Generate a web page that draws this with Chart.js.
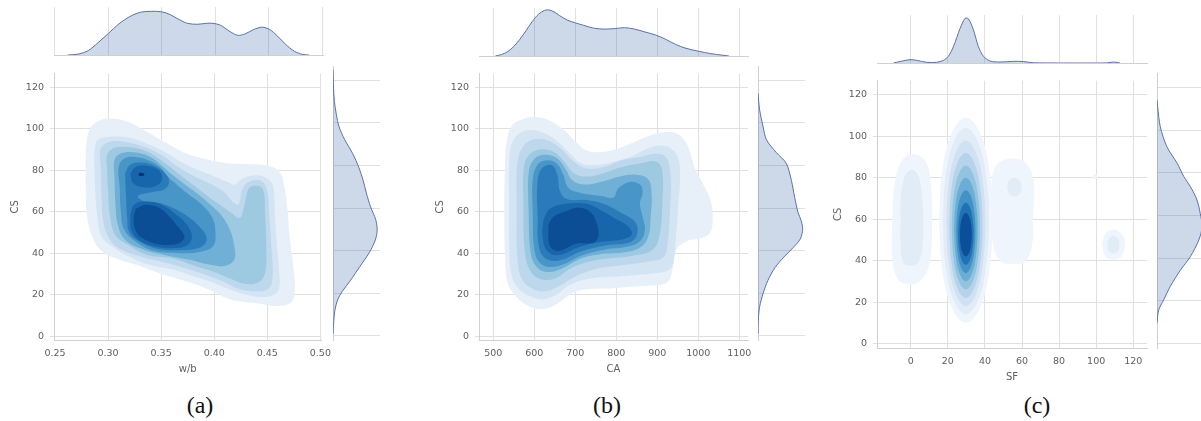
<!DOCTYPE html>
<html>
<head>
<meta charset="utf-8">
<title>CS joint KDE plots</title>
<script src="https://cdn.jsdelivr.net/npm/chart.js@4.4.1/dist/chart.umd.min.js"></script>
<style>
  html, body { margin: 0; padding: 0; background: #fff; }
  body { position: relative; width: 1201px; height: 421px; overflow: hidden; }
  canvas { position: absolute; }
  .caption {
    position: absolute; top: 393px; width: 60px; margin-left: -30px; text-align: center;
    font-family: "Liberation Serif", "Times New Roman", serif; font-size: 24px; line-height: 24px; color: #111;
  }
</style>
</head>
<body>
<div class="caption" style="left:200px">(a)</div>
<div class="caption" style="left:607px">(b)</div>
<div class="caption" style="left:1037px">(c)</div>
<script>
"use strict";

// ---- ticks ----
const csTicks = [0, 20, 40, 60, 80, 100, 120];
const csLabels = ["0", "20", "40", "60", "80", "100", "120"];
const wbTicks = [0.25, 0.30, 0.35, 0.40, 0.45, 0.50];
const wbLabels = ["0.25", "0.30", "0.35", "0.40", "0.45", "0.50"];
const caTicks = [500, 600, 700, 800, 900, 1000, 1100];
const caLabels = ["500", "600", "700", "800", "900", "1000", "1100"];
const sfTicks = [0, 20, 40, 60, 80, 100, 120];
const sfLabels = ["0", "20", "40", "60", "80", "100", "120"];

// ---- (a) w/b vs CS : density contours, outer -> inner ----
const wbLevel1 = [[0.279,90],[0.282,99],[0.290,103.5],[0.302,105],[0.318,103.5],[0.335,99],[0.354,93.5],[0.372,88.5],[0.391,85.5],[0.410,83.5],[0.429,83],[0.447,82.5],[0.461,79.5],[0.466,72],[0.469,61],[0.471,48],[0.474,35.5],[0.476,24],[0.473,16.5],[0.460,14.5],[0.444,15.5],[0.428,16.5],[0.413,18],[0.397,22],[0.382,25],[0.366,27.5],[0.347,30.5],[0.329,34],[0.310,37],[0.294,41],[0.285,48],[0.280,59],[0.279,72]];
const wbLevel2 = [[0.287,84],[0.288,92],[0.291,95],[0.302,96.2],[0.319,95.8],[0.338,92.6],[0.354,88.7],[0.369,84],[0.385,80.1],[0.401,76.9],[0.413,74.3],[0.419,73],[0.426,75.8],[0.435,77.4],[0.447,76.9],[0.455,73],[0.457,60.5],[0.459,44.8],[0.461,32.2],[0.461,22.8],[0.455,19.7],[0.442,18.9],[0.426,20.5],[0.413,22.8],[0.398,26],[0.379,29.1],[0.360,32.2],[0.338,34.5],[0.319,38.5],[0.304,43.2],[0.294,47.9],[0.290,57.3],[0.288,70]];
const wbLevel3 = [[0.293,82.4],[0.293,90.3],[0.301,93.7],[0.316,93.7],[0.335,91.1],[0.351,87.1],[0.366,81.6],[0.382,76.9],[0.398,73],[0.410,69.1],[0.418,64.4],[0.423,63.6],[0.427,71.5],[0.435,74.9],[0.445,74.6],[0.450,69.9],[0.452,57.3],[0.454,41.6],[0.455,29.1],[0.451,22.8],[0.439,21.6],[0.423,22.8],[0.410,26],[0.394,29.1],[0.376,32.2],[0.354,35.5],[0.332,38.2],[0.313,41.6],[0.302,46.4],[0.296,54.2],[0.294,66.7]];
const wbLevel4 = [[0.299,80.9],[0.299,87.1],[0.305,90.6],[0.321,91.1],[0.338,88.7],[0.352,84],[0.366,78.5],[0.380,73],[0.394,67.5],[0.407,62.8],[0.416,59.5],[0.424,57],[0.428,62],[0.430,67],[0.433,71.5],[0.440,72.5],[0.446,70.7],[0.448,58.9],[0.449,43.2],[0.448,30.7],[0.442,26],[0.429,25.2],[0.416,27.5],[0.401,30.7],[0.382,33.8],[0.360,37.5],[0.338,39],[0.319,44],[0.307,48.7],[0.302,57.3],[0.300,69.9]];
const wbLevel5 = [[0.306,76.2],[0.306,84.8],[0.311,87.9],[0.324,88.7],[0.340,86.4],[0.352,81.6],[0.363,76.9],[0.373,73],[0.383,69.1],[0.396,63.6],[0.407,58.1],[0.415,51.1],[0.419,43.2],[0.419,36.9],[0.410,33.8],[0.394,34.6],[0.376,36.9],[0.354,39],[0.332,42],[0.316,46.5],[0.309,54.2],[0.307,63.6]];
const wbLevel6 = [[0.311,71.5],[0.310,81.6],[0.315,85.6],[0.326,86.4],[0.338,84.8],[0.349,81.6],[0.355,77.7],[0.363,73.8],[0.376,68.3],[0.388,63.6],[0.398,57.3],[0.401,51.1],[0.399,43.5],[0.385,40.5],[0.366,40],[0.344,41],[0.326,45.5],[0.315,51.5],[0.312,60.5]];
const wbLevel7 = [[0.316,78.5],[0.321,82.7],[0.332,83.7],[0.344,82.1],[0.354,78.5],[0.3575,74.3],[0.353,70.7],[0.343,69.6],[0.328,67.5],[0.335,64.9],[0.351,63.9],[0.369,59.7],[0.385,53.4],[0.393,47.1],[0.3875,43],[0.369,41.5],[0.3475,42],[0.330,45.5],[0.320,50],[0.318,57.3],[0.317,66.7]];
const wbLevel8Upper = [[0.321,78.5],[0.326,81.6],[0.337,82.1],[0.3475,80.1],[0.351,76.2],[0.346,72.7],[0.333,71.8],[0.3235,73.8]];
const wbLevel8Lower = [[0.321,58.9],[0.325,63.6],[0.337,64.9],[0.351,63.3],[0.363,59.2],[0.374,53.9],[0.379,47.9],[0.375,44],[0.363,42.5],[0.346,43],[0.330,46],[0.322,51]];
const wbLevel9 = [[0.326,61.3],[0.335,63.3],[0.3475,62],[0.357,58.1],[0.366,52.6],[0.372,47.9],[0.368,45.2],[0.359,44],[0.3475,44.3],[0.335,46.5],[0.327,50],[0.324,55.8]];
const wbLevel10 = [[0.3288,78.5],[0.3319,78.8],[0.3344,78],[0.3325,77.3],[0.3294,77.4]];
const wbTop = [[0.262,0],[0.272,0.02],[0.281,0.09],[0.290,0.25],[0.300,0.45],[0.310,0.65],[0.320,0.80],[0.330,0.89],[0.340,0.91],[0.350,0.90],[0.358,0.84],[0.366,0.74],[0.374,0.66],[0.383,0.64],[0.392,0.66],[0.398,0.66],[0.405,0.62],[0.413,0.50],[0.421,0.41],[0.428,0.44],[0.436,0.53],[0.444,0.58],[0.451,0.53],[0.458,0.40],[0.466,0.22],[0.474,0.08],[0.482,0.01],[0.488,0]];
const wbSide = [[0,1],[0.01,5],[0.04,12],[0.1,17],[0.2,21],[0.37,26],[0.57,32.5],[0.77,39],[0.9,45],[0.94,49.5],[0.91,54.5],[0.8,60.5],[0.71,67],[0.64,73],[0.55,79],[0.42,85.5],[0.25,92],[0.13,98],[0.07,104],[0.03,110],[0.012,116],[0.004,122],[0,125]];

// ---- (b) CA vs CS ----
const caLevel1 = [[528.5,82.5],[530.9,91.9],[544.7,101.3],[573.2,104.7],[605.7,105.6],[638.2,103.9],[670.7,99.7],[703.3,93.4],[727.6,89.5],[760.2,88.8],[800.8,90.3],[841.5,93.4],[882.1,96.9],[914.6,98.4],[947.2,97.8],[967.5,94.2],[979.7,88.8],[991.9,80.9],[1012.2,73.1],[1030.1,65.3],[1035,55.9],[1028.5,49.7],[1008.1,47.3],[971.5,45.8],[947.2,41.9],[937.4,32.5],[929.3,27],[914.6,25],[882.1,24.4],[841.5,23.9],[792.7,23.1],[743.9,22.8],[703.3,21.6],[670.7,17.7],[642.3,14.1],[613.8,13],[581.3,15],[552.8,19.7],[534.1,26.3],[528.5,38.8],[526.8,63.8]];
const caLevel2 = [[538.2,63.8],[540.7,88.8],[556.9,96.6],[589.4,99.4],[622,98.1],[654.5,94.2],[687,88],[715.4,83.3],[752,82.5],[792.7,84.1],[833.3,86.4],[874,90.3],[906.5,91.9],[935,90.3],[951.2,85.6],[955.3,76.3],[951.2,63.8],[945.5,48.1],[939,35.6],[926.8,31.7],[890.2,30.2],[841.5,29.4],[792.7,28.6],[735.8,27.8],[687,24.7],[654.5,20],[622,17.7],[589.4,19.2],[561,23.1],[544.7,29.4],[539,41.9]];
const caLevel3 = [[556.9,63.8],[558.5,83.3],[573.2,91.6],[599.2,95],[634.1,94.2],[666.7,90],[696.7,84.1],[727.6,80.9],[772.4,81.7],[813,84.8],[857.7,86.4],[898.4,88],[922.8,85.9],[932.5,76.3],[930.9,60.6],[925.2,45],[914.6,38],[874,35.9],[808.9,34.1],[752,32.5],[703.3,29.1],[662.6,24.4],[626,21.6],[593.5,23.1],[569.1,27.8],[558.5,38.8]];
const caLevel4 = [[573.2,63.8],[574,80.2],[586.2,87.2],[613.8,90],[648,88.8],[674.8,83.8],[696.7,78.6],[727.6,77],[768.3,78.6],[808.9,81.3],[857.7,83.3],[898.4,84.1],[912.2,79.4],[912.2,63.8],[906.5,49.7],[890.2,41.9],[841.5,38.8],[784.6,37.5],[727.6,35.6],[687,32.5],[650.4,27.8],[613.8,27.5],[589.4,31.7],[576.4,41.9]];
const caLevel5 = [[585.4,63.8],[586.2,78.6],[599.2,85.3],[623.6,87.5],[654.5,85.9],[676.4,80.6],[692.7,75.2],[723.6,73.1],[768.3,74.7],[808.9,77],[849.6,77.8],[878,75.5],[886.2,68.4],[883.8,57.5],[878,48.1],[857.7,42.7],[817.1,40.3],[760.2,39.5],[711.4,37.2],[666.7,32.5],[630.1,30.9],[605.7,33.3],[591.1,40.3]];
const caLevel6 = [[595.9,60.6],[595.9,74.7],[607.3,82.5],[630.1,84.8],[654.5,83.3],[670.7,77.8],[682.9,71.6],[711.4,69.2],[760.2,67.7],[792.7,66.9],[804.9,71.3],[833.3,74.4],[857.7,73.1],[864.2,69.2],[857.7,63.8],[864.2,57.5],[869.9,51.3],[857.7,45.8],[825.2,43.1],[776.4,41.9],[719.5,39.1],[662.6,34.1],[622,34.1],[601.6,40.3]];
const caLevel7 = [[608.1,57.5],[607.3,73.1],[617.9,80.9],[642.3,82.5],[656.1,77.8],[662.6,70],[678.9,66.1],[727.6,65.6],[768.3,63.8],[808.9,59.8],[845.5,55.2],[851.2,49.4],[833.3,45.3],[776.4,43.8],[715.4,40.9],[658.5,36.4],[623.6,38],[609.8,45]];
const caLevel8 = [[622,55.9],[638.2,61.4],[678.9,63.8],[727.6,63.8],[760.2,60.9],[792.7,57.2],[829.3,52.8],[837.4,48.9],[813,46.6],[768.3,45.6],[711.4,43.1],[658.5,39.1],[631.7,41.1],[620.3,48.1]];
const caLevel9 = [[634.1,53.6],[646.3,57.5],[678.9,60.3],[707.3,61.9],[737.4,59.8],[752,54.4],[756.1,48.1],[742.3,45],[703.3,44.7],[658.5,41.1],[638.2,43.4]];
const caTop = [[505,0],[520,0.03],[535,0.09],[550,0.2],[565,0.35],[580,0.53],[595,0.72],[610,0.87],[625,0.95],[635,0.96],[648,0.92],[662,0.84],[680,0.75],[700,0.69],[720,0.64],[745,0.58],[770,0.56],[795,0.57],[820,0.59],[845,0.56],[870,0.5],[895,0.44],[920,0.35],[945,0.24],[970,0.16],[1000,0.1],[1030,0.05],[1060,0.015],[1075,0]];
const caSide = [[0,1],[0.007,7.5],[0.035,13.75],[0.11,20],[0.21,26],[0.36,32],[0.55,37],[0.75,41.5],[0.9,45.5],[0.95,50],[0.92,54],[0.85,58],[0.78,65],[0.71,73],[0.6,81],[0.39,86],[0.18,92],[0.11,98],[0.035,106],[0,114]];

// ---- (c) SF vs CS ----
const sfLevel1Mid = [[15.2,59.5],[17.1,84.3],[22.5,102.4],[29.7,109],[37.0,102.4],[42.3,84.3],[44.2,59.5],[42.3,34.8],[37.0,16.6],[29.7,10],[22.5,16.6],[17.1,34.8]];
const sfLevel1Left = [[-10,60],[-8.5,78],[-5,88],[0.5,91.5],[8,88],[11,75],[11.5,55],[10,38],[5,30],[-1,28.5],[-7,31],[-10,42]];
const sfLevel1Right = [[43.5,62],[43.5,76],[45.5,85],[50,88.5],[58,89],[64,85],[66.5,75],[66,62],[65.5,48],[62,40],[55,38.5],[48,40],[44.5,48]];
const sfLevel1Far = [[103.2,47.5],[105,53],[109.3,55],[113.5,53],[115.5,47.5],[113.5,42],[109.3,40.5],[105,42]];
const sfLevel1Speck = [[97.9,80.6],[99.4,82],[100.9,80.6],[99.4,79.2]];
const sfLevel2Mid = [[17.2,59],[18.9,81.5],[23.5,98],[29.7,104],[36.0,98],[40.5,81.5],[42.2,59],[40.5,36.5],[36.0,20],[29.7,14],[23.5,20],[18.9,36.5]];
const sfLevel2Left = [[-5.5,60],[-5.5,68],[-3.5,80],[0.5,84],[4.5,80],[6.5,65],[6.5,48],[4,39],[0,37.5],[-4,39],[-5.5,50]];
const sfLevel2Right = [[51.9,75.5],[53.1,78.7],[55.9,80],[58.7,78.7],[59.9,75.5],[58.7,72.3],[55.9,71],[53.1,72.3]];
const sfLevel2Far = [[106,47.5],[106.8,50.5],[109.3,52],[111.8,50.5],[112.5,47.5],[111.8,44.5],[109.3,43.5],[106.8,44.5]];
const sfLevel3 = [[19.2,58],[20.6,78],[24.5,92.6],[29.7,98],[35.0,92.6],[38.8,78],[40.2,58],[38.8,38],[35.0,23.4],[29.7,18],[24.5,23.4],[20.6,38]];
const sfLevel4 = [[20.7,57],[21.9,74.5],[25.2,87.3],[29.7,92],[34.2,87.3],[37.5,74.5],[38.7,57],[37.5,39.5],[34.2,26.7],[29.7,22],[25.2,26.7],[21.9,39.5]];
const sfLevel5 = [[22.1,56],[23.1,71],[25.9,82],[29.7,86],[33.5,82],[36.3,71],[37.3,56],[36.3,41],[33.5,30],[29.7,26],[25.9,30],[23.1,41]];
const sfLevel6 = [[23.3,55],[24.2,67.5],[26.5,76.7],[29.7,80],[32.9,76.7],[35.2,67.5],[36.1,55],[35.2,42.5],[32.9,33.4],[29.7,30],[26.5,33.4],[24.2,42.5]];
const sfLevel7 = [[24.5,54],[25.2,64],[27.1,71.3],[29.7,74],[32.3,71.3],[34.2,64],[34.9,54],[34.2,44],[32.3,36.7],[29.7,34],[27.1,36.7],[25.2,44]];
const sfLevel8 = [[25.5,53],[26.1,60.5],[27.6,66],[29.7,68],[31.8,66],[33.3,60.5],[33.9,53],[33.3,45.5],[31.8,40],[29.7,38],[27.6,40],[26.1,45.5]];
const sfLevel9 = [[26.5,52.5],[26.9,57.8],[28.1,61.6],[29.7,63],[31.3,61.6],[32.5,57.8],[32.9,52.5],[32.5,47.3],[31.3,43.4],[29.7,42],[28.1,43.4],[26.9,47.3]];
const sfTop = [[-9.3,0],[-5.8,0.03],[-0.4,0.07],[3.2,0.055],[8.6,0.014],[14,0.014],[17.6,0.055],[20.3,0.14],[23,0.34],[26.6,0.72],[29.3,0.93],[31.1,0.92],[33.8,0.69],[36.5,0.34],[39.2,0.14],[42.8,0.04],[48.2,0.02],[55.3,0.035],[60.7,0.03],[66.1,0.005],[80,0],[100,0],[105.7,0.002],[109.3,0.02],[112.8,0]];
const sfSide = [[0,9.4],[0.035,15.6],[0.14,20.3],[0.28,26.6],[0.5,34.4],[0.71,40.7],[0.89,48.5],[0.96,54.8],[0.92,61],[0.85,67.3],[0.71,73.6],[0.57,78.3],[0.43,84.5],[0.21,92.3],[0.07,101.7],[0.014,111.1],[0,114.2]];

// contour fill colours, light -> dark
const bluesAB = ["#e7f0f9", "#d3e4f3", "#bdd7ec", "#9ecae1", "#70b0d7", "#4896c8", "#2b7bba", "#1765ab", "#0b4e96", "#08306b"];
const bluesC = ["#eff5fc", "#e1ecf7", "#cfe1f2", "#b5d3ea", "#93c4df", "#6aaed6", "#4292c6", "#2171b5", "#0b4f99"];

// ---- style ----
const GRID = "#e0e0e0";
const SPINE = "#d0d0d0";
const TEXT = "#606060";
const TICK_FONT = { family: "DejaVu Sans", size: 9.5 };
const TITLE_FONT = { family: "DejaVu Sans", size: 10 };
const MARGIN_FILL = "rgba(76,114,176,0.28)";
const MARGIN_LINE = "#5872aa";

Chart.defaults.font.family = "DejaVu Sans";

function addCanvas(left, top, width, height) {
  const c = document.createElement("canvas");
  c.width = width;
  c.height = height;
  c.style.left = left + "px";
  c.style.top = top + "px";
  c.style.width = width + "px";
  c.style.height = height + "px";
  document.body.appendChild(c);
  return c;
}

const pinTicks = (values) => (scale) => {
  scale.ticks = values.map((value) => ({ value }));
};
const asPoints = (pts) => pts.map(([x, y]) => ({ x, y }));

function baseOptions() {
  return {
    responsive: false,
    animation: false,
    events: [],
    devicePixelRatio: 1,
    plugins: { legend: { display: false }, tooltip: { enabled: false } },
    elements: { point: { radius: 0 } },
  };
}

function marginSet(curve) {
  return {
    data: asPoints(curve),
    showLine: true,
    fill: "shape",
    tension: 0.3,
    backgroundColor: MARGIN_FILL,
    borderColor: MARGIN_LINE,
    borderWidth: 1,
    pointRadius: 0,
  };
}

// main joint panel: box is the plot area in page pixels
function drawJoint(box, xRange, yRange, xTicks, xLabels, xTitle, levels, colors) {
  const axisW = 54, axisH = 36, padTop = 4, padRight = 16;
  const left = box.l - axisW, top = box.t - padTop;
  const canvas = addCanvas(left, top, box.r - left + padRight, box.b - top + axisH);

  const datasets = [];
  levels.forEach((parts, i) => {
    parts.forEach((poly) => {
      datasets.push({
        data: asPoints(poly.concat([poly[0]])),
        showLine: true,
        fill: "shape",
        tension: 0.4,
        backgroundColor: colors[i],
        borderColor: "rgba(0,0,0,0)",
        borderWidth: 0,
        pointRadius: 0,
        order: levels.length - i,
      });
    });
  });

  new Chart(canvas, {
    type: "scatter",
    data: { datasets },
    options: {
      ...baseOptions(),
      layout: { padding: { top: padTop, right: padRight, left: 0, bottom: 0 } },
      scales: {
        x: {
          type: "linear", min: xRange[0], max: xRange[1],
          afterBuildTicks: pinTicks(xTicks),
          afterFit: (s) => { s.height = axisH; },
          grid: { color: GRID, drawTicks: false },
          border: { color: SPINE },
          ticks: { autoSkip: false, maxRotation: 0, padding: 8, color: TEXT, font: TICK_FONT,
                   callback: (v, i) => xLabels[i] },
          title: { display: true, text: xTitle, color: TEXT, font: TITLE_FONT, padding: { top: 0, bottom: 1 } },
        },
        y: {
          type: "linear", min: yRange[0], max: yRange[1],
          afterBuildTicks: pinTicks(csTicks),
          afterFit: (s) => { s.width = axisW; },
          grid: { color: GRID, tickLength: 4 },
          border: { color: SPINE },
          ticks: { autoSkip: false, padding: 6, color: TEXT, font: TICK_FONT,
                   callback: (v, i) => csLabels[i] },
          title: { display: true, text: "CS", color: TEXT, font: TITLE_FONT, padding: { top: 9, bottom: 0 } },
        },
      },
    },
  });
}

// marginal density above the joint panel
function drawTopMargin(box, xRange, xTicks, curve) {
  const canvas = addCanvas(box.l, box.t - 1, box.r - box.l + 1, box.b - box.t + 3);
  new Chart(canvas, {
    type: "scatter",
    data: { datasets: [marginSet(curve)] },
    options: {
      ...baseOptions(),
      layout: { padding: { top: 1, bottom: 2, left: 0, right: 1 } },
      scales: {
        x: {
          type: "linear", min: xRange[0], max: xRange[1],
          afterBuildTicks: pinTicks(xTicks),
          afterFit: (s) => { s.height = 0; },
          grid: { color: GRID, drawTicks: false },
          border: { color: SPINE },
          ticks: { display: false },
        },
        y: { type: "linear", display: false, min: 0, max: 1 },
      },
    },
  });
}

// marginal density to the right of the joint panel
function drawSideMargin(box, yRange, curve) {
  const canvas = addCanvas(box.l, box.t - 1, box.r - box.l + 1, box.b - box.t + 2);
  new Chart(canvas, {
    type: "scatter",
    data: { datasets: [marginSet(curve)] },
    options: {
      ...baseOptions(),
      layout: { padding: { top: 1, bottom: 1, left: 0, right: 1 } },
      scales: {
        x: { type: "linear", display: false, min: 0, max: 1 },
        y: {
          type: "linear", min: yRange[0], max: yRange[1],
          afterBuildTicks: pinTicks(csTicks),
          afterFit: (s) => { s.width = 0; },
          grid: { color: GRID, drawTicks: false },
          border: { color: SPINE },
          ticks: { display: false },
        },
      },
    },
  });
}

// (a)
const csRangeAB = [-1.9, 126.6];
drawJoint({ l: 54, r: 323, t: 66, b: 340 }, [0.2491, 0.5009], csRangeAB, wbTicks, wbLabels, "w/b",
  [[wbLevel1], [wbLevel2], [wbLevel3], [wbLevel4], [wbLevel5], [wbLevel6], [wbLevel7],
   [wbLevel8Upper, wbLevel8Lower], [wbLevel9], [wbLevel10]], bluesAB);
drawTopMargin({ l: 54, r: 323, t: 7, b: 55 }, [0.2491, 0.5009], wbTicks, wbTop);
drawSideMargin({ l: 333, r: 380, t: 66, b: 340 }, csRangeAB, wbSide);

// (b)
drawJoint({ l: 479, r: 748, t: 66, b: 340 }, [465.1, 1121.2], csRangeAB, caTicks, caLabels, "CA",
  [[caLevel1], [caLevel2], [caLevel3], [caLevel4], [caLevel5], [caLevel6], [caLevel7], [caLevel8], [caLevel9]],
  bluesAB);
drawTopMargin({ l: 479, r: 748, t: 8, b: 56 }, [465.1, 1121.2], caTicks, caTop);
drawSideMargin({ l: 758, r: 805, t: 66, b: 340 }, csRangeAB, caSide);

// (c)
const csRangeC = [-2.2, 126.9];
drawJoint({ l: 877, r: 1147, t: 73, b: 348 }, [-18.2, 127.4], csRangeC, sfTicks, sfLabels, "SF",
  [[sfLevel1Mid, sfLevel1Left, sfLevel1Right, sfLevel1Far, sfLevel1Speck],
   [sfLevel2Mid, sfLevel2Left, sfLevel2Right, sfLevel2Far],
   [sfLevel3], [sfLevel4], [sfLevel5], [sfLevel6], [sfLevel7], [sfLevel8], [sfLevel9]], bluesC);
drawTopMargin({ l: 877, r: 1147, t: 15, b: 63 }, [-18.2, 127.4], sfTicks, sfTop);
drawSideMargin({ l: 1157, r: 1204, t: 73, b: 348 }, csRangeC, sfSide);
</script>
</body>
</html>
